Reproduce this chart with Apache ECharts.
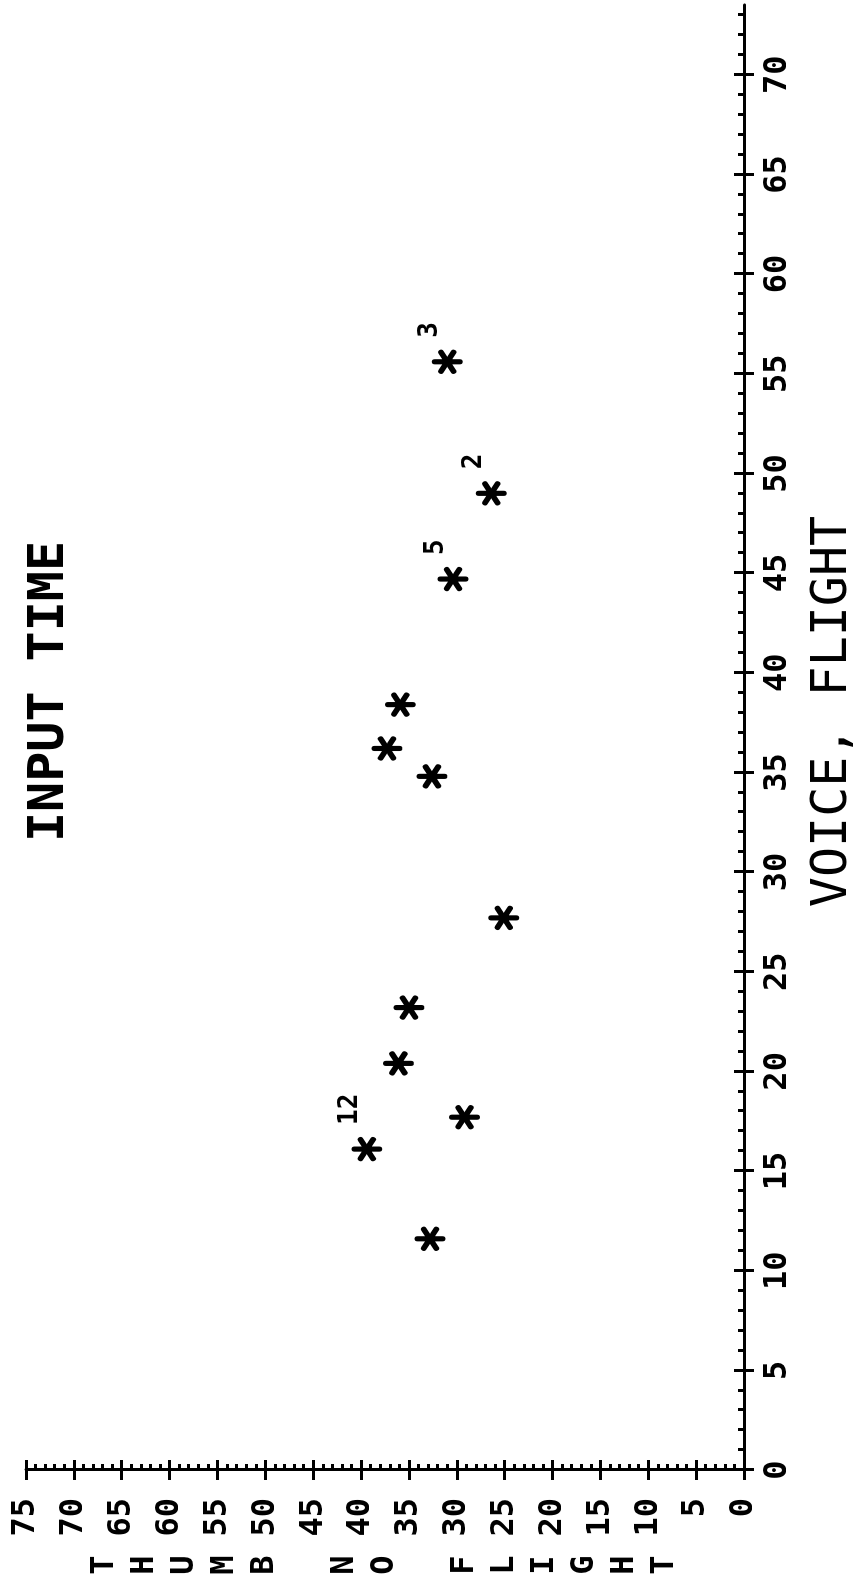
<!DOCTYPE html>
<html><head><meta charset="utf-8">
<script src="https://cdn.jsdelivr.net/npm/echarts@6/dist/echarts.min.js"></script>
<style>
html,body{margin:0;padding:0;background:#fff;overflow:hidden;width:863px;height:1585px;}
#chart{position:absolute;left:0;top:0;width:1585px;height:863px;transform-origin:0 0;transform:translate(0,1585px) rotate(-90deg);}
</style></head><body><div id="chart"></div>
<script>
// Data
const voiceFlight = [55.6, 49.0, 44.7, 38.4, 36.2, 34.8, 27.7, 23.2, 20.4, 17.7, 16.1, 11.6];
const thumbFlight = [31.0, 26.4, 30.4, 35.9, 37.3, 32.6, 25.1, 35.0, 36.1, 29.2, 39.4, 32.8];
const pointCounts = ['3', '2', '5', '', '', '', '', '', '', '', '12', ''];
const voiceTicks = [0, 5, 10, 15, 20, 25, 30, 35, 40, 45, 50, 55, 60, 65, 70];
const thumbTicks = [0, 5, 10, 15, 20, 25, 30, 35, 40, 45, 50, 55, 60, 65, 70, 75];
const voiceMinor = []; for (let i = 0; i <= 73; i++) voiceMinor.push(i);
const thumbMinor = []; for (let i = 0; i <= 75; i++) thumbMinor.push(i);

const FONT = 'DejaVu Sans Mono';
const VMAX = 73.5, TMAX = 75;
const ASTER = 'path://M10,0 L10,20 M1.34,5 L18.66,15 M1.34,15 L18.66,5';

function axis(kind, max, interval, ticks, opts) {
  const base = {
    type: 'value', min: 0, max: max, interval: interval,
    position: kind === 'x' ? 'bottom' : 'left',
    splitLine: {show: false},
    axisLine: {show: false, onZero: false, lineStyle: {color: '#000', width: 3}},
    axisTick: {show: true, customValues: ticks, inside: true, length: 6, lineStyle: {color: '#000', width: 3}},
    axisLabel: {show: false}
  };
  return Object.assign(base, opts || {});
}

const chart = echarts.init(document.getElementById('chart'), null, {renderer: 'canvas'});
chart.setOption({
  animation: false,
  backgroundColor: '#fff',
  title: {text: 'INPUT TIME', left: 738, top: 20,
    textStyle: {fontFamily: FONT, fontSize: 50, fontWeight: 'bold', color: '#000'}},
  grid: {left: 115, right: 5, top: 26, bottom: 115},
  xAxis: [
    axis('x', VMAX, 5, voiceTicks, {
      axisLine: {show: true, onZero: false, lineStyle: {color: '#000', width: 3}},
      axisTick: {show: true, customValues: voiceTicks, inside: false, length: 10, lineStyle: {color: '#000', width: 3}},
      axisLabel: {show: true, customValues: voiceTicks, margin: 18, color: '#000', fontFamily: FONT, fontWeight: 'bold', fontSize: 32,
        formatter: v => (v % 5 === 0 ? String(v) : '')},
      name: 'VOICE, FLIGHT', nameLocation: 'middle', nameGap: 64,
      nameTextStyle: {fontFamily: FONT, fontSize: 50, color: '#000', padding: [0, 0, 0, 52]}
    }),
    axis('x', VMAX, 5, voiceTicks, {axisTick: {show: true, customValues: voiceTicks, inside: true, length: 10, lineStyle: {color: '#000', width: 3}}}),
    axis('x', VMAX, 1, voiceMinor, {axisTick: {show: true, customValues: voiceMinor, inside: true, length: 6, lineStyle: {color: '#000', width: 3}}})
  ],
  yAxis: [
    axis('y', TMAX, 5, thumbTicks, {
      axisLine: {show: true, onZero: false, lineStyle: {color: '#000', width: 3}},
      axisTick: {show: true, customValues: thumbTicks, inside: false, length: 10, lineStyle: {color: '#000', width: 3}},
      axisLabel: {show: true, customValues: thumbTicks, margin: 28, color: '#000', fontFamily: FONT, fontWeight: 'bold', fontSize: 32},
      name: 'T\nH\nU\nM\nB\n \nN\nO\n \nF\nL\nI\nG\nH\nT', nameLocation: 'middle', nameRotate: 0, nameGap: 95,
      nameTextStyle: {fontFamily: FONT, fontSize: 32, fontWeight: 'bold', color: '#000', lineHeight: 40, align: 'center', verticalAlign: 'middle'}
    }),
    axis('y', TMAX, 5, thumbTicks, {axisTick: {show: true, customValues: thumbTicks, inside: true, length: 10, lineStyle: {color: '#000', width: 3}}}),
    axis('y', TMAX, 1, thumbMinor, {axisTick: {show: true, customValues: thumbMinor, inside: true, length: 6, lineStyle: {color: '#000', width: 3}}})
  ],
  series: [{
    type: 'scatter', xAxisIndex: 0, yAxisIndex: 0,
    symbol: ASTER, symbolSize: [22, 25], symbolKeepAspect: true,
    itemStyle: {color: '#000', borderColor: '#000', borderWidth: 5.5, borderCap: 'round', opacity: 1},
    label: {position: 'right', distance: 12, offset: [0, -17], color: '#000', fontFamily: FONT, fontWeight: 'bold', fontSize: 26},
    emphasis: {disabled: true},
    data: voiceFlight.map((v, i) => ({
      value: [v, thumbFlight[i]],
      label: {show: pointCounts[i] !== '', formatter: pointCounts[i] || ' '}
    }))
  }]
});
</script></body></html>
